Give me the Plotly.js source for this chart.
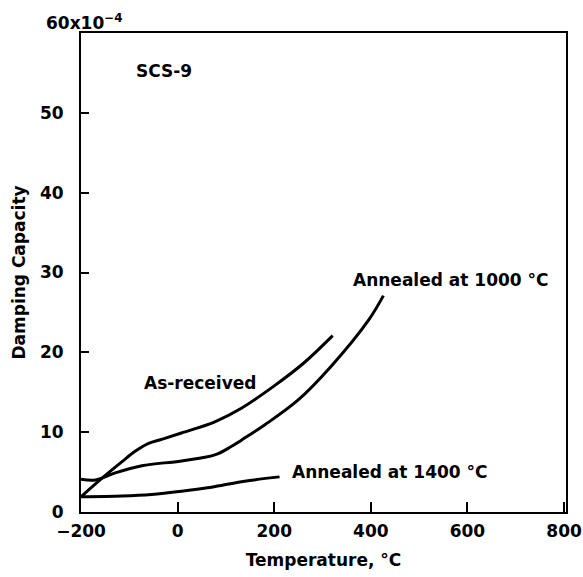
<!DOCTYPE html>
<html>
<head>
<meta charset="utf-8">
<script src="https://cdn.plot.ly/plotly-3.0.1.min.js"></script>
<style>
html,body{margin:0;padding:0;background:#fff;}
#chart{width:583px;height:577px;}
</style>
</head>
<body>
<div id="chart"></div>
<script>
// Temperature (°C) and damping capacity (x10^-4), SCS-9 fiber
var asReceivedT = [-200, -157, -115, -88, -60, -33, 8, 77, 132, 200, 260, 321];
var asReceivedD = [1.9, 4.2, 6.3, 7.6, 8.6, 9.1, 9.9, 11.3, 13.0, 15.8, 18.6, 22.1];

var ann1000T = [-200, -170, -129, -74, 8, 77, 111, 132, 180, 249, 317, 396, 426];
var ann1000D = [4.1, 4.0, 4.9, 5.8, 6.4, 7.15, 8.2, 9.0, 10.9, 14.0, 18.2, 24.1, 27.1];

var ann1400T = [-200, -115, -54, 8, 70, 132, 211];
var ann1400D = [1.9, 2.0, 2.2, 2.6, 3.1, 3.8, 4.4];

var xTicks = [-200, 0, 200, 400, 600, 800];
var yTicks = [0, 10, 20, 30, 40, 50];

var seriesNames = ["As-received", "Annealed at 1000 °C", "Annealed at 1400 °C"];
var sampleLabel = "SCS-9";
var yUnitLabel = "60x10<sup>−4</sup>";

var FONT = "DejaVu Sans, Liberation Sans, Arial, sans-serif";
var lineStyle = {color: "#000", width: 3, shape: "spline", smoothing: 1};

var traces = [
  {x: asReceivedT, y: asReceivedD, name: seriesNames[0], mode: "lines", line: lineStyle, hoverinfo: "x+y"},
  {x: ann1000T, y: ann1000D, name: seriesNames[1], mode: "lines", line: lineStyle, hoverinfo: "x+y"},
  {x: ann1400T, y: ann1400D, name: seriesNames[2], mode: "lines", line: lineStyle, hoverinfo: "x+y"}
];

var tickFont = {family: FONT, size: 17, color: "#000", weight: "bold"};
var textFont = {family: FONT, size: 17, color: "#000", weight: "bold"};

var layout = {
  width: 583, height: 577,
  margin: {l: 81, r: 17, t: 33, b: 65, pad: 0},
  paper_bgcolor: "#fff", plot_bgcolor: "#fff",
  showlegend: false,
  font: textFont,
  xaxis: {
    range: [-200, 804],
    tickvals: xTicks,
    ticks: "inside", ticklen: 10, tickwidth: 2, tickcolor: "#000",
    showline: true, linecolor: "#000", linewidth: 2, mirror: true,
    showgrid: false, zeroline: false,
    tickfont: tickFont,
    ticklabelstandoff: 3,
    title: {text: "Temperature, °C", font: textFont, standoff: 14}
  },
  yaxis: {
    range: [0, 60],
    tickvals: yTicks,
    ticks: "inside", ticklen: 8, tickwidth: 2, tickcolor: "#000",
    showline: true, linecolor: "#000", linewidth: 2, mirror: true,
    showgrid: false, zeroline: false,
    tickfont: tickFont,
    ticklabelstandoff: 12,
    title: {text: "Damping Capacity", font: textFont, standoff: 10}
  },
  annotations: [
    {xref: "paper", yref: "paper", x: -0.076, y: 1.023, xanchor: "left", yanchor: "middle",
     text: yUnitLabel, showarrow: false, font: textFont},
    {x: -29, y: 55.2, text: sampleLabel, showarrow: false, xanchor: "center", yanchor: "middle", font: textFont},
    {x: 47, y: 16.2, text: seriesNames[0], showarrow: false, xanchor: "center", yanchor: "middle", font: textFont},
    {x: 566, y: 29.1, text: seriesNames[1], showarrow: false, xanchor: "center", yanchor: "middle", font: textFont},
    {x: 439, y: 5.0, text: seriesNames[2], showarrow: false, xanchor: "center", yanchor: "middle", font: textFont}
  ]
};

Plotly.newPlot("chart", traces, layout, {staticPlot: true, displayModeBar: false});
</script>
</body>
</html>
